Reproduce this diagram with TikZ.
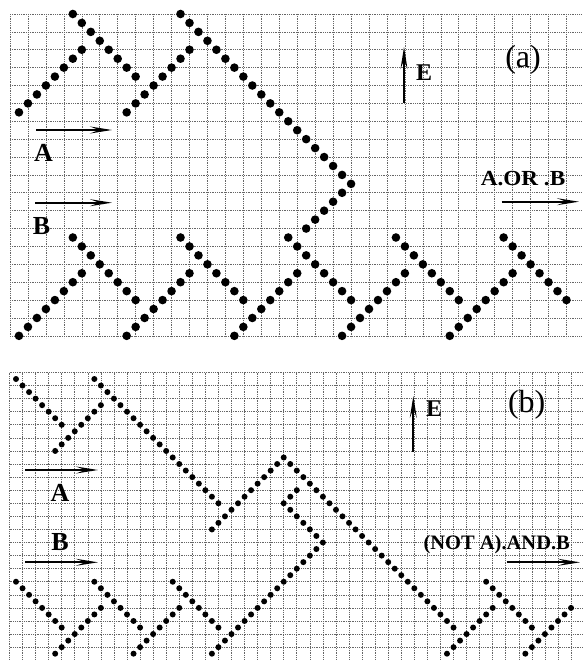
\documentclass[tikz,border=0pt]{standalone}
\usepackage{fontspec}
\setmainfont{Liberation Serif}
\usetikzlibrary{arrows.meta}
\newcommand\dotrunA[5]{\foreach \k in {0,...,#5}{\fill ({10+8.975*(#1+\k*(#3))},{14+8.94*(#2+\k*(#4))}) circle[radius=4.3pt];}}
\newcommand\dotrunB[5]{\foreach \k in {0,...,#5}{\fill ({16+6.53*(#1+\k*(#3))},{379+6.54*(#2+\k*(#4))}) circle[radius=3pt];}}
\begin{document}
\begin{tikzpicture}[x=1pt,y=-1pt,
  gridline/.style={line width=0.6pt, black!60, dash pattern=on 0.9pt off 0.9pt},
  sig/.style={line width=1.8pt, -{Stealth[length=22pt,width=7pt,inset=9pt]}},
  lbl/.style={font=\fontsize{26}{26}\selectfont\bfseries, inner sep=0pt},
  elbl/.style={font=\fontsize{24}{24}\selectfont\bfseries, inner sep=0pt},
  plbl/.style={font=\fontsize{32}{32}\selectfont, inner sep=0pt},
  olbl/.style={font=\fontsize{21.5}{21.5}\selectfont\bfseries, inner sep=0pt},
]
\useasboundingbox (0,0) rectangle (582,660);
% ---------- panel (a) grid ----------
\foreach \k in {0,...,31} \draw[gridline] ({10+17.95*\k},14) -- ({10+17.95*\k},338);
\foreach \k in {0,...,18} \draw[gridline] (10,{14+17.88*\k}) -- (582,{14+17.88*\k});
% ---------- panel (b) grid ----------
\foreach \m in {0,...,43} \draw[gridline] ({16+6.53*(2*\m-1)},372.5) -- ({16+6.53*(2*\m-1)},660);
\foreach \m in {0,...,21} \draw[gridline] (9.5,{379+6.54*(2*\m-1)}) -- (582,{379+6.54*(2*\m-1)});
% ---------- panel (a) dots ----------
\dotrunA{7}{0}{1}{1}{7}
\dotrunA{1}{11}{1}{-1}{7}
\dotrunA{13}{11}{1}{-1}{7}
\dotrunA{19}{0}{1}{1}{19}
\dotrunA{37}{20}{-1}{1}{4}
\foreach \p in {7,19,31,43,55}{\dotrunA{\p}{25}{1}{1}{7}\dotrunA{\p-6}{36}{1}{-1}{7}}
% ---------- panel (b) dots ----------
\dotrunB{0}{0}{1}{1}{7}
\dotrunB{6}{11}{1}{-1}{7}
\dotrunB{12}{0}{1}{1}{19}
\dotrunB{30}{23}{1}{-1}{10}
\dotrunB{41}{12}{1}{1}{26}
\dotrunB{43}{17}{-1}{1}{2}
\dotrunB{42}{20}{1}{1}{5}
\dotrunB{30}{42}{1}{-1}{16}
\foreach \p in {0,12,24,72}{\dotrunB{\p}{31}{1}{1}{7}}
\foreach \p in {6,18,66,78}{\dotrunB{\p}{42}{1}{-1}{7}}
% ---------- panel (a) labels ----------
\coordinate (aAs) at (36,130); \coordinate (aAe) at (112,130);
\draw[sig] (aAs) -- (aAe);
\node[lbl] (aA) at (43.5,152.5) {A};
\coordinate (aBs) at (35,202.7); \coordinate (aBe) at (112,202.7);
\draw[sig] (aBs) -- (aBe);
\node[lbl] (aB) at (41.5,226) {B};
\coordinate (aEs) at (404,103); \coordinate (aEe) at (404,47);
\draw[sig] (aEs) -- (aEe);
\node[elbl] (aE) at (424,73) {E};
\node[plbl] (alab) at (523,60) {(a)};
\node[olbl, xscale=1.08] (aOut) at (523,179) {A.OR .B};
\coordinate (aOs) at (501.7,201.7); \coordinate (aOe) at (579,201.7);
\draw[sig] (aOs) -- (aOe);
% ---------- panel (b) labels ----------
\coordinate (bAs) at (25,470); \coordinate (bAe) at (98,470);
\draw[sig] (bAs) -- (bAe);
\node[lbl] (bA) at (60,492.5) {A};
\coordinate (bBs) at (25,562.3); \coordinate (bBe) at (98,562.3);
\draw[sig] (bBs) -- (bBe);
\node[lbl] (bB) at (60,541.7) {B};
\coordinate (bEs) at (413.3,451.7); \coordinate (bEe) at (413.3,396);
\draw[sig] (bEs) -- (bEe);
\node[elbl] (bE) at (434,409) {E};
\node[plbl] (blab) at (526.7,405) {(b)};
\node[olbl, font=\fontsize{20.5}{20.5}\selectfont\bfseries] (bOut) at (496.7,545) {(NOT A).AND.B};
\coordinate (bOs) at (506.7,562.3); \coordinate (bOe) at (580,562.3);
\draw[sig] (bOs) -- (bOe);
\end{tikzpicture}
\end{document}
